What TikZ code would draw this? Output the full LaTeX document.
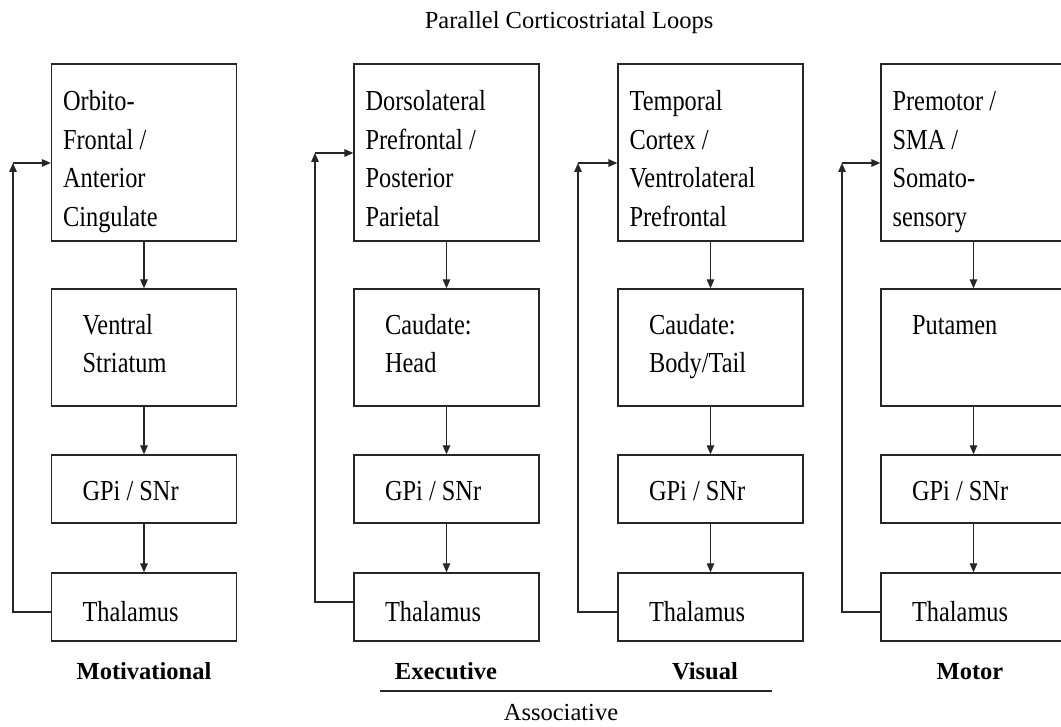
\documentclass[tikz,border=0pt]{standalone}
\usepackage{fontspec}
\setmainfont{Liberation Serif}
\newfontfamily\boxfont{Liberation Serif}[FakeStretch=0.84]
\newcommand\boxtext{\boxfont\fontsize{29}{38.5}\selectfont}
\newcommand\tightspace{\spaceskip=6.1pt\relax}
\usetikzlibrary{arrows.meta}

\begin{document}
\begin{tikzpicture}[x=1pt,y=1pt]
  \tikzstyle{box} = [draw=black!85, line width=1.3pt, inner sep=0pt, minimum width=185pt]
  \tikzstyle{ctx} = [box, minimum height=177pt]
  \tikzstyle{str} = [box, minimum height=117pt]
  \tikzstyle{small} = [box, minimum height=68pt]
  \tikzstyle{txt} = [anchor=base west, inner sep=0pt, text width=170pt, align=left, font=\boxtext,
    execute at begin node=\tightspace]
  \tikzstyle{line} = [draw=black!85, line width=1.3pt]
  \tikzstyle{arr} = [line, -{Triangle[length=9pt,width=7.5pt]}]
  \tikzstyle{lab} = [inner sep=0pt, anchor=base, font=\fontsize{24.5}{29}\selectfont]
  \tikzstyle{grp} = [inner sep=0pt, anchor=base, font=\fontsize{24.5}{29}\selectfont\bfseries]
  \clip (0,0) rectangle (1061,727);

  \node[lab] (title) at (569,698) {Parallel Corticostriatal Loops};

  % motivational loop
  \node[ctx] (ctxA) at (144,574.5) {};
  \node[str] (strA) at (144,379.5) {};
  \node[small] (gpA) at (144,238) {};
  \node[small] (thA) at (144,120) {};
  \node[txt] (tctxA) at ([shift={(12,-47.5)}]ctxA.north west) {Orbito-\\Frontal /\\Anterior\\Cingulate};
  \node[txt] (tstrA) at ([shift={(31.5,-46)}]strA.north west) {Ventral\\Striatum};
  \node[txt] (tgpA) at ([shift={(31.5,-45.7)}]gpA.north west) {GPi / SNr};
  \node[txt] (tthA) at ([shift={(31.5,-48.7)}]thA.north west) {Thalamus};
  \draw[arr] (ctxA.south) -- (strA.north);
  \draw[arr] (strA.south) -- (gpA.north);
  \draw[arr] (gpA.south) -- (thA.north);
  \coordinate (cA) at (13,564);
  \draw[arr] ([yshift=-5pt]thA.west) -| (cA);
  \draw[arr] (cA) -- (cA -| ctxA.west);

  % executive loop
  \node[ctx] (ctxB) at (446.5,574.5) {};
  \node[str] (strB) at (446.5,379.5) {};
  \node[small] (gpB) at (446.5,238) {};
  \node[small] (thB) at (446.5,120) {};
  \node[txt] (tctxB) at ([shift={(12,-47.5)}]ctxB.north west) {Dorsolateral\\Prefrontal /\\Posterior\\Parietal};
  \node[txt] (tstrB) at ([shift={(31.5,-46)}]strB.north west) {Caudate:\\Head};
  \node[txt] (tgpB) at ([shift={(31.5,-45.7)}]gpB.north west) {GPi / SNr};
  \node[txt] (tthB) at ([shift={(31.5,-48.7)}]thB.north west) {Thalamus};
  \draw[arr] (ctxB.south) -- (strB.north);
  \draw[arr] (strB.south) -- (gpB.north);
  \draw[arr] (gpB.south) -- (thB.north);
  \coordinate (cB) at (315,574);
  \draw[arr] ([yshift=5pt]thB.west) -| (cB);
  \draw[arr] (cB) -- (cB -| ctxB.west);

  % visual loop
  \node[ctx] (ctxC) at (710.5,574.5) {};
  \node[str] (strC) at (710.5,379.5) {};
  \node[small] (gpC) at (710.5,238) {};
  \node[small] (thC) at (710.5,120) {};
  \node[txt] (tctxC) at ([shift={(12,-47.5)}]ctxC.north west) {Temporal\\Cortex /\\Ventrolateral\\Prefrontal};
  \node[txt] (tstrC) at ([shift={(31.5,-46)}]strC.north west) {Caudate:\\Body/Tail};
  \node[txt] (tgpC) at ([shift={(31.5,-45.7)}]gpC.north west) {GPi / SNr};
  \node[txt] (tthC) at ([shift={(31.5,-48.7)}]thC.north west) {Thalamus};
  \draw[arr] (ctxC.south) -- (strC.north);
  \draw[arr] (strC.south) -- (gpC.north);
  \draw[arr] (gpC.south) -- (thC.north);
  \coordinate (cC) at (578,564);
  \draw[arr] ([yshift=-5pt]thC.west) -| (cC);
  \draw[arr] (cC) -- (cC -| ctxC.west);

  % motor loop
  \node[ctx] (ctxD) at (973.5,574.5) {};
  \node[str] (strD) at (973.5,379.5) {};
  \node[small] (gpD) at (973.5,238) {};
  \node[small] (thD) at (973.5,120) {};
  \node[txt] (tctxD) at ([shift={(12,-47.5)}]ctxD.north west) {Premotor /\\SMA /\\Somato-\\sensory};
  \node[txt] (tstrD) at ([shift={(31.5,-46)}]strD.north west) {Putamen};
  \node[txt] (tgpD) at ([shift={(31.5,-45.7)}]gpD.north west) {GPi / SNr};
  \node[txt] (tthD) at ([shift={(31.5,-48.7)}]thD.north west) {Thalamus};
  \draw[arr] (ctxD.south) -- (strD.north);
  \draw[arr] (strD.south) -- (gpD.north);
  \draw[arr] (gpD.south) -- (thD.north);
  \coordinate (cD) at (842,564);
  \draw[arr] ([yshift=-5pt]thD.west) -| (cD);
  \draw[arr] (cD) -- (cD -| ctxD.west);

  % loop names
  \node[grp] (motiv) at (144,47) {Motivational};
  \node[grp] (exec) at (446,47) {Executive};
  \node[grp] (visual) at (705,47) {Visual};
  \node[grp] (motor) at (970,47) {Motor};
  \draw[line] (380,36) -- (772,36);
  \node[lab] (assoc) at (561,6) {Associative};
\end{tikzpicture}
\end{document}
